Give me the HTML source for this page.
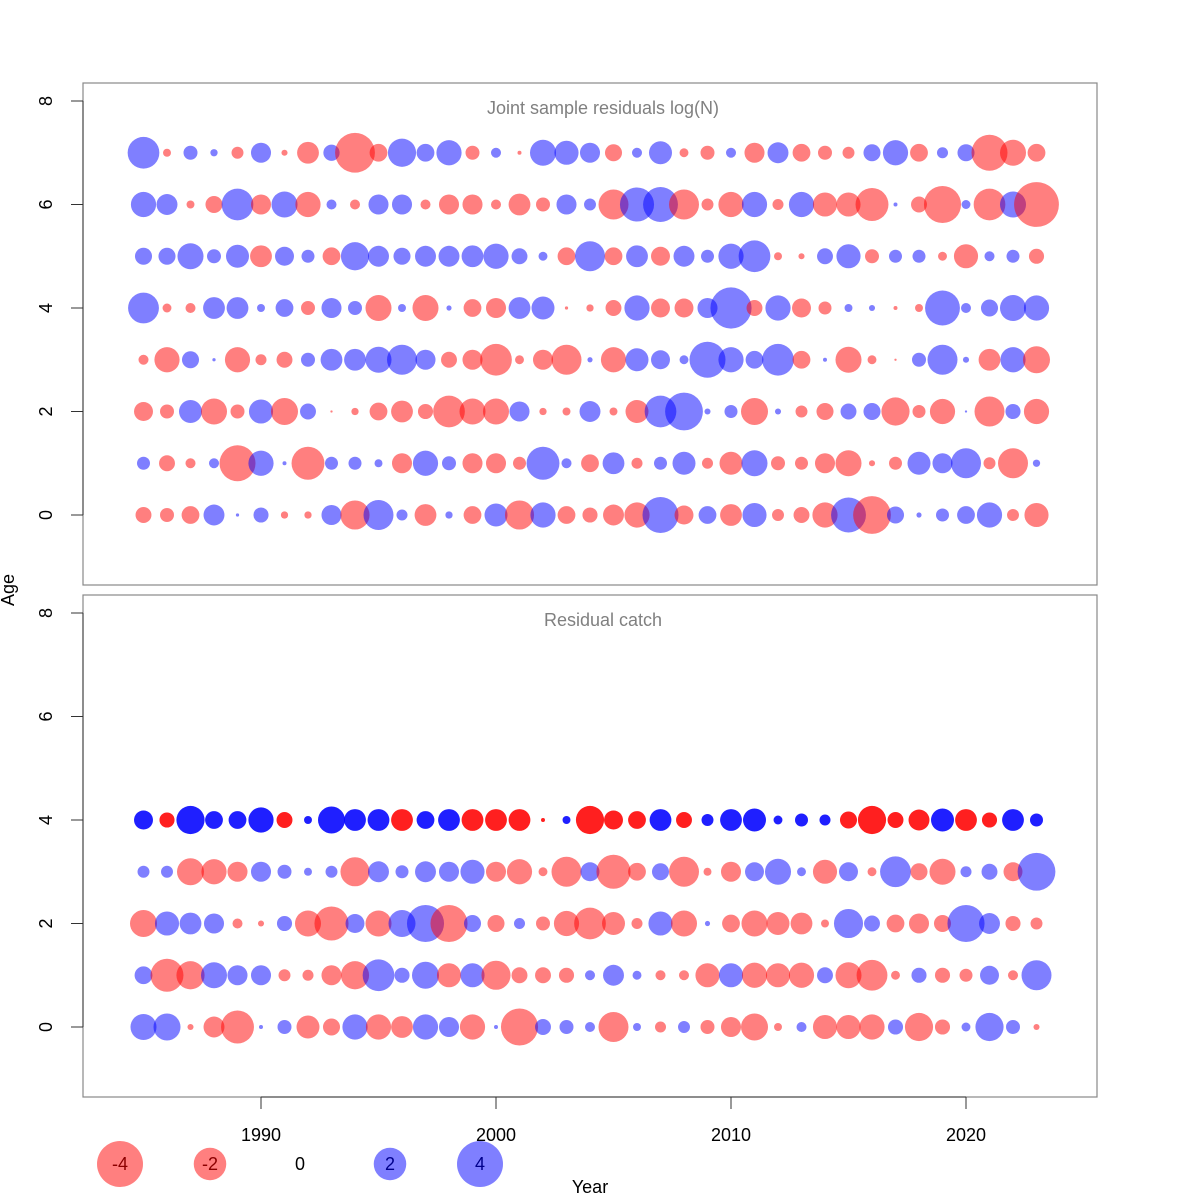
<!DOCTYPE html>
<html><head><meta charset="utf-8"><style>
html,body{margin:0;padding:0;background:#fff;}
svg{display:block;font-family:"Liberation Sans",Arial,sans-serif;}
</style></head><body>
<svg id="chart" width="1200" height="1200" viewBox="0 0 1200 1200">
<g id="g-top"></g>
<g id="g-bot"></g>
<g id="g-axes"></g>
<g id="g-legend"></g>
</svg>
<script>
const years = [1985,1986,1987,1988,1989,1990,1991,1992,1993,1994,1995,1996,1997,1998,1999,2000,2001,2002,2003,2004,2005,2006,2007,2008,2009,2010,2011,2012,2013,2014,2015,2016,2017,2018,2019,2020,2021,2022,2023];
const topAges = [0,1,2,3,4,5,6,7];
const botAges = [0,1,2,3,4];
const yTicks = [0,2,4,6,8];
const xTicks = [1990,2000,2010,2020];
const legendValues = [-4,-2,0,2,4];
// Joint sample residuals (positive = blue, negative = red)
const top7 = [1.9,-0.12,0.37,0.1,-0.27,0.76,-0.07,-0.9,0.5,-3.0,-0.6,1.5,0.6,1.2,-0.37,0.19,-0.03,1.28,1.1,0.76,-0.55,0.19,1.0,-0.15,-0.37,0.19,-0.76,0.83,-0.6,-0.37,-0.27,0.55,1.2,-0.6,0.23,0.55,-2.45,-1.28,-0.6];
const top6 = [1.2,0.83,-0.12,-0.55,1.9,-0.76,1.28,-1.2,0.19,-0.19,0.76,0.76,-0.19,-0.76,-0.76,-0.19,-0.9,-0.37,0.76,0.27,-1.7,2.2,2.3,-1.7,-0.27,-1.2,1.2,-0.23,1.2,-1.1,-1.1,-2.05,0.03,-0.48,-2.6,0.15,-1.9,1.28,-3.8];
const top5 = [0.55,0.55,1.28,0.37,1.0,-0.9,0.68,0.32,-0.6,1.5,0.83,0.55,0.83,0.83,0.9,1.2,0.48,0.15,-0.6,1.7,-0.6,0.9,-0.68,0.83,0.32,1.2,1.9,-0.12,-0.07,0.48,1.1,-0.37,0.32,0.32,-0.15,-1.1,0.19,0.32,-0.43];
const top4 = [1.8,-0.15,-0.19,0.9,0.9,0.12,0.6,-0.37,0.76,0.37,-1.28,0.12,-1.28,0.05,-0.6,-0.76,0.9,1.0,-0.02,-0.1,-0.48,1.2,-0.68,-0.68,0.76,3.2,-0.48,1.2,-0.68,-0.32,0.12,0.07,-0.03,-0.12,2.3,0.19,0.55,1.28,1.2];
const top3 = [-0.19,-1.2,0.55,0.02,-1.2,-0.23,-0.48,0.37,0.9,0.9,1.28,1.7,0.76,-0.48,-0.76,-1.9,-0.15,-0.76,-1.7,0.05,-1.2,1.0,0.68,0.15,2.45,1.2,0.6,1.9,-0.6,0.03,-1.28,-0.15,-0.01,0.37,1.7,0.07,-0.9,1.2,-1.38];
const top2 = [-0.68,-0.37,1.0,-1.28,-0.37,1.1,-1.38,0.48,-0.01,-0.1,-0.6,-0.9,-0.43,-1.9,-1.28,-1.28,0.76,-0.1,-0.12,0.83,-0.12,-1.0,1.9,2.7,0.07,0.32,-1.38,0.07,-0.27,-0.55,0.48,0.55,-1.5,-0.32,-1.2,0.01,-1.7,0.43,-1.2];
const top1 = [0.32,-0.48,-0.19,0.19,-2.45,1.2,0.03,-2.05,0.32,0.32,0.12,-0.76,1.2,0.37,-0.76,-0.76,-0.32,2.05,0.19,-0.6,0.9,-0.23,0.32,1.0,-0.23,-1.0,1.28,-0.37,-0.32,-0.76,-1.28,-0.07,-0.32,1.0,0.76,1.7,-0.27,-1.7,0.1];
const top0 = [-0.48,-0.37,-0.6,0.83,0.02,0.43,-0.1,-0.1,0.76,-1.6,1.7,0.23,-0.9,0.1,-0.6,1.0,-1.6,1.2,-0.6,-0.43,-0.83,-1.2,2.45,-0.68,0.6,-0.9,1.1,-0.27,-0.48,-1.2,2.3,-2.7,0.55,0.05,0.32,0.6,1.2,-0.27,-1.1];
// Residual catch
const bot4 = [0.68,-0.43,1.5,0.6,0.6,1.2,-0.48,0.12,1.38,0.9,0.9,-0.9,0.6,0.9,-0.9,-0.9,-0.9,-0.03,0.12,-1.5,-0.68,-0.6,0.9,-0.48,0.27,0.9,1.0,0.15,0.32,0.23,-0.55,-1.5,-0.48,-0.83,1.0,-0.9,-0.43,0.9,0.32];
const bot3 = [0.27,0.27,-1.38,-1.2,-0.76,0.76,0.37,0.12,0.27,-1.6,0.83,0.32,0.83,0.76,1.1,-0.76,-1.2,-0.15,-1.7,0.68,-2.2,-0.6,0.55,-1.7,-0.12,-0.76,0.68,1.28,0.15,-1.1,0.68,-0.15,1.8,-0.55,-1.28,0.23,0.48,-0.68,2.7];
const bot2 = [-1.38,1.1,0.9,0.76,-0.19,-0.07,0.43,-1.28,-2.2,0.68,-1.28,1.38,2.6,-2.6,0.55,-0.55,0.23,-0.37,-1.2,-1.9,-1.0,-0.23,1.1,-1.28,0.05,-0.6,-1.28,-1.0,-0.9,-0.12,1.6,0.48,-0.6,-0.76,-0.55,2.6,0.83,-0.43,-0.27];
const bot1 = [0.6,-2.05,-1.5,1.28,0.76,0.76,-0.27,-0.23,-0.76,-1.5,1.9,0.43,1.38,-1.1,1.1,-1.6,-0.48,-0.48,-0.43,0.19,0.83,0.15,-0.19,-0.19,-1.1,1.1,-1.2,-1.1,-1.2,0.48,-1.28,-1.8,-0.15,0.43,-0.43,-0.32,0.68,-0.19,1.7];
const bot0 = [1.28,1.38,-0.07,-0.83,-2.05,0.03,0.37,-1.0,-0.55,1.2,-1.2,-0.9,1.2,0.76,-1.2,0.03,-2.6,0.48,0.37,0.19,-1.7,0.12,-0.23,0.27,-0.37,-0.76,-1.38,-0.12,0.19,-1.1,-1.1,-1.2,0.43,-1.5,-0.43,0.15,1.5,0.37,-0.07];
const topRows = [top0,top1,top2,top3,top4,top5,top6,top7];
const botRows = [bot0,bot1,bot2,bot3,bot4];

const NS = "http://www.w3.org/2000/svg";
function mk(tag, attrs, parent){const e=document.createElementNS(NS,tag);for(const k in attrs)e.setAttribute(k,attrs[k]);parent.appendChild(e);return e;}
const xScale = yr => 261 + (yr-1990)*23.5;
const yTop = a => 515 - a*51.75;
const yBot = a => 1027 - a*51.75;
const rScale = v => 11.5*Math.sqrt(Math.abs(v));

const gTop=document.getElementById('g-top'), gBot=document.getElementById('g-bot'), gAx=document.getElementById('g-axes'), gLeg=document.getElementById('g-legend');

function panel(g, y0, title, rows, ages, yf, opaqueAge){
  const box = mk('rect',{x:83,y:y0,width:1014,height:502,fill:'none',stroke:'#888','stroke-width':1.2},g);
  
  
  const t = mk('text',{x:603,y:y0+31,'text-anchor':'middle','font-size':18,fill:'#808080'},g);
  t.textContent=title;
  
  
  ages.forEach((a,ai)=>{
    rows[ai].forEach((v,i)=>{
      const op = (a===opaqueAge)?0.88:0.5;
      const c = mk('circle',{cx:xScale(years[i]),cy:yf(a),r:rScale(v),fill:v>=0?'#0000ff':'#ff0000','fill-opacity':op},g);
      
      
    });
  });
  const yl = mk('line',{x1:83,x2:83,y1:yf(0),y2:yf(8),stroke:'#333','stroke-width':1},gAx);
  
  
  yTicks.forEach(tv=>{
    const y=yf(tv);
    const tk=mk('line',{x1:71,x2:83,y1:y,y2:y,stroke:'#333','stroke-width':1},gAx);
    
    
    const lb=mk('text',{x:0,y:0,transform:`translate(52,${y}) rotate(-90)`,'text-anchor':'middle','font-size':18,fill:'#000'},gAx);
    lb.textContent=tv;
    
    
  });
}
panel(gTop,83,'Joint sample residuals log(N)',topRows,topAges,yTop,-1);
panel(gBot,595,'Residual catch',botRows,botAges,yBot,4);

const xl=mk('line',{x1:xScale(xTicks[0]),x2:xScale(xTicks[xTicks.length-1]),y1:1097,y2:1097,stroke:'#333','stroke-width':1},gAx);


xTicks.forEach(tv=>{
  const x=xScale(tv);
  const tk=mk('line',{x1:x,x2:x,y1:1097,y2:1109,stroke:'#333','stroke-width':1},gAx);
  
  
  const lb=mk('text',{x:x,y:1141,'text-anchor':'middle','font-size':18,fill:'#000'},gAx);
  lb.textContent=tv;
  
  
});
const yt=mk('text',{x:0,y:0,transform:'translate(14,590) rotate(-90)','text-anchor':'middle','font-size':18,fill:'#000'},gAx);
yt.textContent='Age';


const xt=mk('text',{x:590,y:1193,'text-anchor':'middle','font-size':18,fill:'#000'},gAx);
xt.textContent='Year';



legendValues.forEach((v,i)=>{
  const x=120+i*90, y=1164;
  if(v!==0){
    const e=mk('circle',{cx:x,cy:y,r:rScale(v),fill:v>0?'#0000ff':'#ff0000','fill-opacity':0.5},gLeg);
    
    
  }
  const t=mk('text',{x:x,y:y+6,'text-anchor':'middle','font-size':18,fill:v>0?'#00008b':(v<0?'#8b0000':'#000')},gLeg);
  t.textContent=v;
  
  
});
</script>
</body></html>
